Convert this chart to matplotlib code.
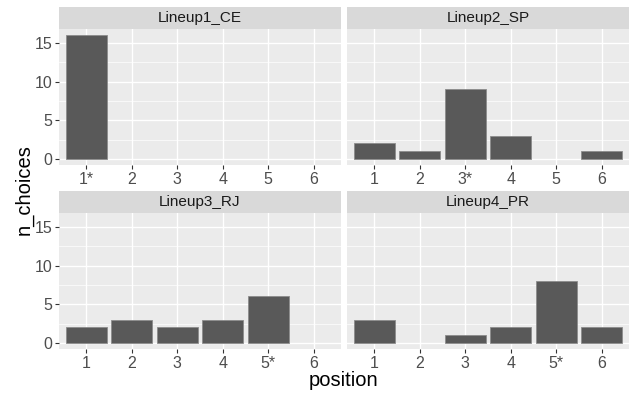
import matplotlib.pyplot as plt
from matplotlib.patches import Rectangle

plt.rcParams['font.family'] = ['Liberation Sans', 'DejaVu Sans']

# data
panels = ["Lineup1_CE", "Lineup2_SP", "Lineup3_RJ", "Lineup4_PR"]
positions = [1, 2, 3, 4, 5, 6]
tick_labels = [
    ["1*", "2", "3", "4", "5", "6"],
    ["1", "2", "3*", "4", "5", "6"],
    ["1", "2", "3", "4", "5*", "6"],
    ["1", "2", "3", "4", "5*", "6"],
]
lineup1_ce = [16, 0, 0, 0, 0, 0]
lineup2_sp = [2, 1, 9, 3, 0, 1]
lineup3_rj = [2, 3, 2, 3, 6, 0]
lineup4_pr = [3, 0, 1, 2, 8, 2]
counts = [lineup1_ce, lineup2_sp, lineup3_rj, lineup4_pr]

W, H = 632, 394
fig = plt.figure(figsize=(W / 100, H / 100), dpi=100)

# panel boxes in pixels: left, top, right, bottom
boxes = [
    (59, 29, 341, 165),
    (347, 29, 629, 165),
    (59, 213, 341, 349),
    (347, 213, 629, 349),
]
strip_h = 22

for i, (name, vals, labs) in enumerate(zip(panels, counts, tick_labels)):
    l, t, r, b = boxes[i]
    ax = fig.add_axes([l / W, 1 - b / H, (r - l) / W, (b - t) / H])
    ax.set_facecolor('#EBEBEB')
    for s in ax.spines.values():
        s.set_visible(False)

    ax.set_xlim(0.4, 6.6)
    ax.set_ylim(-0.8, 16.8)
    ax.set_yticks([0, 5, 10, 15])
    ax.set_yticks([2.5, 7.5, 12.5], minor=True)
    ax.set_xticks(positions)
    ax.set_xticklabels(labs)
    ax.grid(which='major', color='white', linewidth=1.0)
    ax.grid(which='minor', axis='y', color='white', linewidth=0.5)
    ax.set_axisbelow(True)

    lw = [0.6 if v > 0 else 0 for v in vals]
    ax.bar(positions, vals, width=0.9, color='#595959',
           edgecolor='#8c8c8c', linewidth=lw)

    ax.tick_params(which='major', length=3, width=0.8, color='#333333',
                   labelsize=11.5, labelcolor='#4D4D4D', pad=2)
    ax.tick_params(which='minor', length=0)
    if i % 2 == 1:
        ax.tick_params(axis='y', left=False, labelleft=False)

    # strip
    sh = strip_h / (b - t)
    ax.add_patch(Rectangle((0, 1), 1, sh, transform=ax.transAxes,
                           facecolor='#D9D9D9', edgecolor='none',
                           clip_on=False))
    ax.text(0.5, 1 + sh / 2, name, transform=ax.transAxes,
            ha='center', va='center', fontsize=11, color='#1A1A1A')

fig.text(344 / W, 1 - 380 / H, "position", ha='center', va='center',
         fontsize=14.5, color='black')
fig.text(24 / W, 1 - 190 / H, "n_choices", ha='center', va='center',
         rotation=90, fontsize=14.5, color='black')

fig.savefig("out.png", dpi=100, facecolor='white')
